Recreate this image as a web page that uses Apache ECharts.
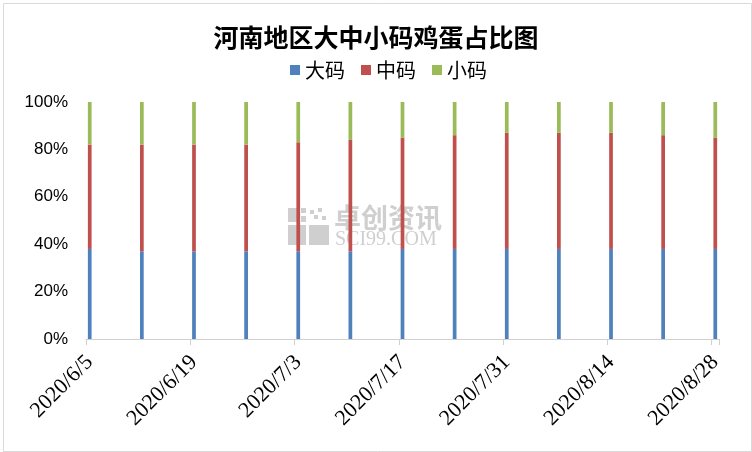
<!DOCTYPE html>
<html>
<head>
<meta charset="utf-8">
<script src="https://cdn.jsdelivr.net/npm/echarts@6/dist/echarts.min.js"></script>
<style>
html,body{margin:0;padding:0;background:#fff;}
#c{width:752px;height:452px;}
</style>
</head>
<body>
<div id="c"></div>
<script>
// ---- data ----
const dates = ['2020/6/5','2020/6/12','2020/6/19','2020/6/26','2020/7/3','2020/7/10','2020/7/17','2020/7/24','2020/7/31','2020/8/7','2020/8/14','2020/8/21','2020/8/28'];
const bigEgg   = [38,37,37,37,37,37,38,38,38,38,38,38,38];   // 大码 %
const midEgg   = [44,45,45,45,46,47,47,48,49,49,49,48,47];   // 中码 %
const smallEgg = [18,18,18,18,17,16,15,14,13,13,13,14,15];   // 小码 %
const yTicks = [0,20,40,60,80,100];

// ---- build daily category axis (Excel-style date axis) ----
function parse(s){const p=s.split('/').map(Number);return new Date(p[0],p[1]-1,p[2]);}
function fmt(d){return d.getFullYear()+'/'+(d.getMonth()+1)+'/'+d.getDate();}
const start = parse(dates[0]), end = parse(dates[dates.length-1]);
const days = [];
for (let d = new Date(start); d <= end; d.setDate(d.getDate()+1)) days.push(fmt(d));
function spread(vals){
  const arr = days.map(()=>null);
  dates.forEach((ds,i)=>{arr[days.indexOf(fmt(parse(ds)))] = vals[i];});
  return arr;
}

const chart = echarts.init(document.getElementById('c'));
const wmColor = '#cfcfcf';
chart.setOption({
  animation:false,
  backgroundColor:'#fff',
  title:{
    text:'河南地区大中小码鸡蛋占比图',
    left:'center', top:20,
    textStyle:{fontFamily:'Noto Sans CJK SC',fontWeight:'bold',fontSize:25,color:'#000'}
  },
  legend:{
    top:55, left:285,
    itemWidth:10, itemHeight:10, itemGap:16,
    icon:'rect',
    textStyle:{fontFamily:'Noto Sans CJK SC',fontSize:20,color:'#000'},
    data:['大码','中码','小码']
  },
  grid:{left:86,right:33,top:102,bottom:113,containLabel:false},
  xAxis:{
    type:'category',
    data:days,
    boundaryGap:true,
    axisLine:{lineStyle:{color:'#d0d0d0',width:1}},
    axisTick:{show:true,interval:13,length:6,lineStyle:{color:'#d0d0d0'}},
    axisLabel:{interval:13,rotate:45,margin:20,fontFamily:'Liberation Serif, Times New Roman, serif',fontSize:22,color:'#000'}
  },
  yAxis:{
    type:'value',min:0,max:100,interval:20,
    axisLine:{show:false},axisTick:{show:false},splitLine:{show:false},
    axisLabel:{formatter:v=>yTicks.includes(v)?v+'%':'',margin:18,fontFamily:'Liberation Sans Narrow, Arial Narrow, Liberation Sans, sans-serif',fontSize:17,color:'#000'}
  },
  series:[
    {name:'大码',type:'bar',stack:'a',barWidth:'50%',data:spread(bigEgg),itemStyle:{color:'#4f81bd'}},
    {name:'中码',type:'bar',stack:'a',barWidth:'50%',data:spread(midEgg),itemStyle:{color:'#c0504d'}},
    {name:'小码',type:'bar',stack:'a',barWidth:'50%',data:spread(smallEgg),itemStyle:{color:'#9bbb59'}}
  ],
  graphic:[
    {type:'rect',left:1,top:1,z:0,shape:{width:748,height:448},style:{fill:null,stroke:'#d9d9d9',lineWidth:1}},
    {type:'group',left:288,top:208,z:1,children:[
      {type:'rect',shape:{x:0,y:0,width:11,height:14},style:{fill:wmColor}},
      {type:'rect',shape:{x:13,y:0,width:5,height:5},style:{fill:wmColor}},
      {type:'rect',shape:{x:22,y:2,width:4,height:4},style:{fill:wmColor}},
      {type:'rect',shape:{x:30,y:0,width:4,height:4},style:{fill:wmColor}},
      {type:'rect',shape:{x:26,y:7,width:4,height:4},style:{fill:wmColor}},
      {type:'rect',shape:{x:34,y:8,width:4,height:4},style:{fill:wmColor}},
      {type:'rect',shape:{x:13,y:8,width:5,height:6},style:{fill:wmColor}},
      {type:'rect',shape:{x:0,y:17,width:18,height:20},style:{fill:wmColor}},
      {type:'rect',shape:{x:21,y:17,width:20,height:20},style:{fill:wmColor}}
    ]},
    {type:'text',left:334,top:204,z:1,style:{text:'卓创资讯',fill:wmColor,font:'bold 27px "Noto Sans CJK SC"'}},
    {type:'text',left:335,top:230,z:1,style:{text:'SCI99.COM',fill:wmColor,font:'20px "Liberation Serif"'}}
  ]
});
</script>
</body>
</html>
